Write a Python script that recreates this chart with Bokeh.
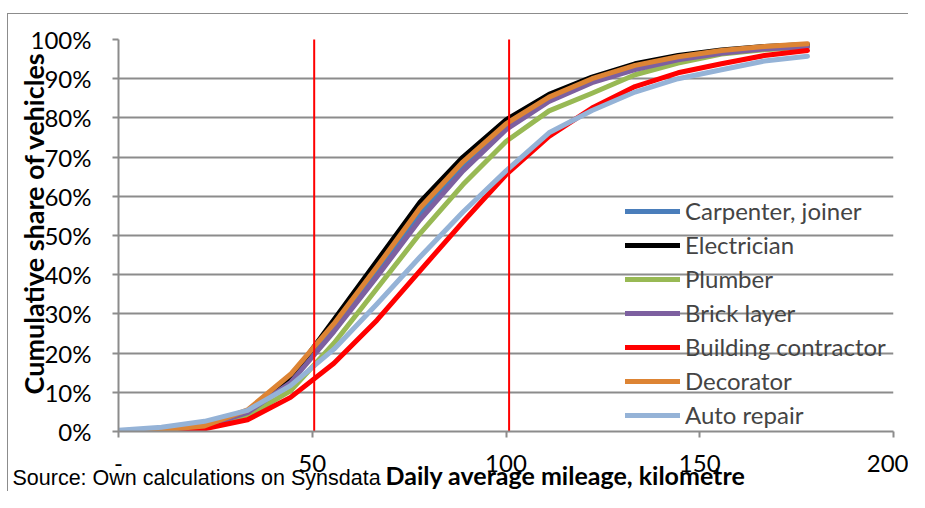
from bokeh.plotting import figure
from bokeh.models import (FixedTicker, PrintfTickFormatter, Legend, Title, Range1d)
from bokeh.embed import file_html
from bokeh.resources import INLINE

# ---- data ----
mileage_km = [0, 11.1, 22.2, 33.3, 44.4, 55.6, 66.7, 77.8, 88.9, 100.0,
              111.1, 122.2, 133.3, 144.4, 155.6, 166.7, 177.8]

carpenter = [0.2, 0.4, 1.4, 5.0, 13.0, 26.0, 40.5, 55.5, 67.5, 77.8, 84.8, 89.5, 92.8, 95.2, 96.8, 97.8, 98.4]
electrician = [0.2, 0.4, 1.3, 5.0, 13.5, 28.5, 43.5, 58.5, 70.0, 79.5, 86.0, 90.4, 93.8, 95.9, 97.3, 98.2, 98.7]
plumber = [0.2, 0.3, 1.1, 4.0, 10.4, 22.5, 36.5, 50.5, 63.0, 74.0, 81.8, 86.3, 91.0, 94.0, 96.3, 97.4, 98.1]
brick_layer = [0.2, 0.4, 1.3, 4.8, 12.5, 25.5, 39.5, 54.0, 66.5, 77.0, 84.2, 89.0, 92.3, 94.8, 96.5, 97.6, 98.2]
building_contractor = [0.1, 0.1, 0.7, 3.0, 8.7, 17.4, 28.4, 41.0, 53.5, 65.5, 75.3, 82.5, 88.0, 91.5, 93.8, 95.9, 97.2]
decorator = [0.2, 0.4, 1.4, 5.5, 14.6, 27.5, 42.0, 57.0, 68.8, 78.5, 85.3, 90.0, 93.4, 95.6, 97.2, 98.2, 98.9]
auto_repair = [0.3, 1.1, 2.6, 5.4, 11.7, 21.0, 32.5, 44.5, 56.0, 66.5, 76.2, 81.9, 86.6, 90.0, 92.3, 94.5, 95.7]

series_names = ["Carpenter, joiner", "Electrician", "Plumber", "Brick layer",
                "Building contractor", "Decorator", "Auto repair"]
series_values = [carpenter, electrician, plumber, brick_layer,
                 building_contractor, decorator, auto_repair]
series_colors = ["#4A7EBB", "#000000", "#98B954", "#7D60A0",
                 "#FF0000", "#DD8434", "#95B3D7"]

threshold_km = [50.5, 100.8]
threshold_span = [-2.3, 101.0]

x_ticks = [0, 50, 100, 150, 200]
y_ticks = [0, 10, 20, 30, 40, 50, 60, 70, 80, 90, 100]

FONT = "Lato"
GRID = "#8c8c8c"

p = figure(width=901, height=478, output_backend="svg", toolbar_location=None,
           x_range=Range1d(0, 200), y_range=Range1d(0, 100),
           min_border_left=110, min_border_right=16, min_border_top=25,
           min_border_bottom=61)
p.margin = (13, 0, 0, 7)
p.styles = {"border-top": "1px solid #8c8c8c", "border-left": "1px solid #8c8c8c"}
p.outline_line_color = None
p.xgrid.grid_line_color = None
p.ygrid.grid_line_color = GRID
p.ygrid.grid_line_width = 2
p.ygrid.ticker = FixedTicker(ticks=y_ticks)

p.xaxis.ticker = FixedTicker(ticks=x_ticks)
p.xaxis.major_label_overrides = {0: "-"}
p.yaxis.ticker = FixedTicker(ticks=y_ticks)
p.yaxis.formatter = PrintfTickFormatter(format="%d%%")
for ax in (p.xaxis, p.yaxis):
    ax.axis_line_color = GRID
    ax.axis_line_width = 2
    ax.major_tick_line_color = GRID
    ax.major_tick_line_width = 2
    ax.major_tick_out = 6
    ax.major_tick_in = 0
    ax.minor_tick_line_color = None
    ax.major_label_text_font = FONT
    ax.major_label_text_font_size = "24px"
    ax.major_label_text_color = "#000000"
p.xaxis.major_label_standoff = 17
p.yaxis.major_label_standoff = 21

items = []
for name, vals, col in zip(series_names, series_values, series_colors):
    r = p.line(mileage_km, vals, line_color=col, line_width=5,
               line_join="round", line_cap="round")
    items.append((name, [r]))

for xk in threshold_km:
    p.line([xk, xk], threshold_span, line_color="#FF0000", line_width=2)

legend = Legend(items=items, location=(507, 2), padding=0, spacing=5,
                glyph_width=55, glyph_height=20, label_standoff=5,
                label_text_font=FONT, label_text_font_size="24px",
                label_height=20, background_fill_alpha=0, border_line_alpha=0)
p.add_layout(legend, "center")

# vertical axis title (left side), followed by an outer spacer panel
p.add_layout(Title(text="Cumulative share of vehicles", align="left", offset=37,
                   standoff=-44, text_font=FONT, text_font_size="27px",
                   text_font_style="bold", text_color="#000000"), "left")
p.add_layout(Title(text=" ", standoff=15, text_font_size="1px"), "left")

p.add_layout(Title(text="Daily average mileage, kilometre", align="left", offset=267,
                   vertical_align="middle", standoff=-34,
                   text_font=FONT, text_font_size="25px", text_font_style="bold",
                   text_color="#000000"), "below")
p.add_layout(Title(text="Source: Own calculations on Synsdata", align="left", offset=-106,
                   vertical_align="middle", standoff=-19,
                   text_font="Liberation Sans", text_font_size="21.5px",
                   text_font_style="normal", text_color="#000000"), "below")

open("out.html", "w").write(file_html(p, INLINE))
